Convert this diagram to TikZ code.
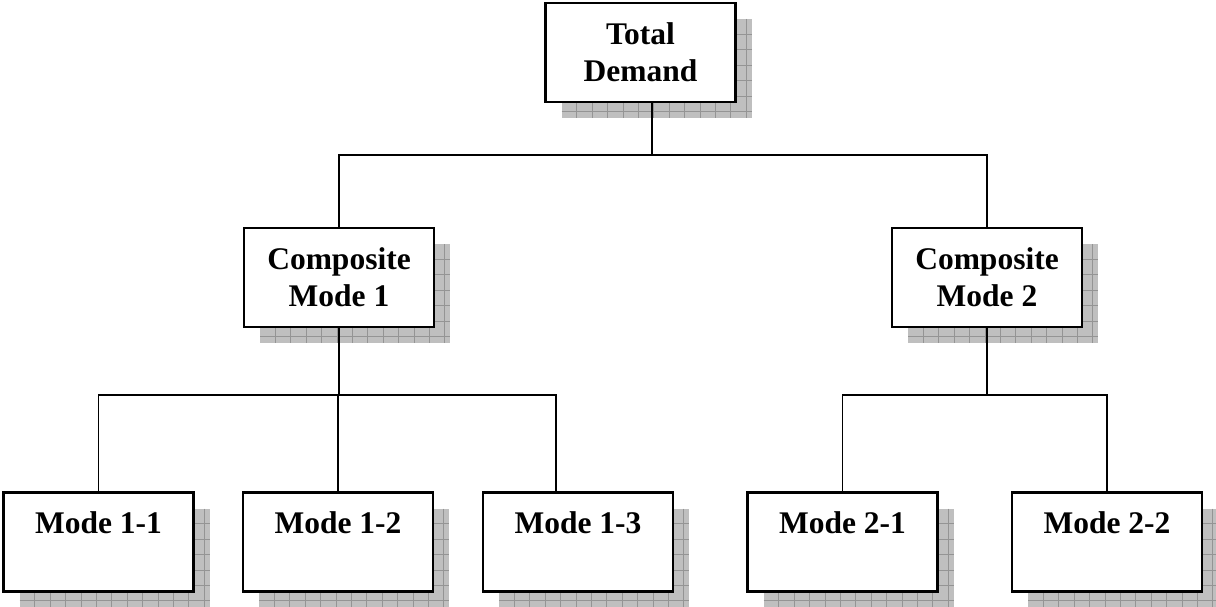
\documentclass[tikz,border=0pt]{standalone}
\usepackage{fontspec}
\setmainfont{Liberation Serif}
\pgfdeclarelayer{background}
\pgfsetlayers{background,main}

\tikzset{
  unitbox/.style={draw=black, fill=white, line width=2.4pt, rectangle,
    minimum width=190pt, minimum height=99pt, inner sep=0pt, outer sep=0pt,
    font=\bfseries\fontsize{31.5}{37}\selectfont, align=center},
  modetext/.style={inner sep=0pt, anchor=north,
    font=\bfseries\fontsize{31.5}{37}\selectfont},
  conn/.style={draw=black, line width=1.8pt},
  shadowfill/.style={fill=black!25},
  shadowgrid/.style={draw=black!42, line width=0.9pt}
}

% hatched drop shadow behind a box: grey field ruled with a fine grid
\newcommand\gridshadow[1]{%
  \begin{pgfonlayer}{background}
    \begin{scope}[shift={([shift={(16,16)}]#1.north west)}]
      \fill[shadowfill] (0,0) rectangle (190,99);
      \foreach \k in {1,...,12} \draw[shadowgrid] (\k*15.4,0) -- (\k*15.4,99);
      \foreach \k in {1,...,6} \draw[shadowgrid] (0,\k*15.4) -- (190,\k*15.4);
    \end{scope}
  \end{pgfonlayer}}

\begin{document}
\begin{tikzpicture}[x=1pt, y=-1pt]
  \useasboundingbox (0,0) rectangle (1216,607);

  % top level
  \node[unitbox] (td) at (640.5,52.5) {Total\\Demand};
  \gridshadow{td}

  % composite modes
  \node[unitbox] (cm1) at (339,277.5) {Composite\\Mode 1};
  \gridshadow{cm1}
  \node[unitbox] (cm2) at (987,277.5) {Composite\\Mode 2};
  \gridshadow{cm2}

  % individual modes
  \node[unitbox] (m11) at (98.5,542) {};
  \gridshadow{m11}
  \node[unitbox] (m12) at (338,542) {};
  \gridshadow{m12}
  \node[unitbox] (m13) at (578,542) {};
  \gridshadow{m13}
  \node[unitbox] (m21) at (842.5,542) {};
  \gridshadow{m21}
  \node[unitbox] (m22) at (1107,542) {};
  \gridshadow{m22}

  \node[modetext] (m11t) at ([yshift=-19pt]m11.north) {Mode 1-1};
  \node[modetext] (m12t) at ([yshift=-19pt]m12.north) {Mode 1-2};
  \node[modetext] (m13t) at ([yshift=-19pt]m13.north) {Mode 1-3};
  \node[modetext] (m21t) at ([yshift=-19pt]m21.north) {Mode 2-1};
  \node[modetext] (m22t) at ([yshift=-19pt]m22.north) {Mode 2-2};

  % junctions of the tree
  \coordinate (j0) at (652,155);
  \coordinate (j1) at (340,395);
  \coordinate (j2) at (988,395);

  % connectors
  \draw[conn] (j0) -- (j0 |- td.south);
  \draw[conn] (cm1.north) |- (j0) -| (cm2.north);

  \draw[conn] (cm1.south) -- (cm1.south |- j1);
  \draw[conn] (m11.north) |- (j1) -| (m12.north);
  \draw[conn] (j1) -| ([xshift=-22pt]m13.north);

  \draw[conn] (cm2.south) -- (cm2.south |- j2);
  \draw[conn] (m21.north) |- (j2) -| (m22.north);
\end{tikzpicture}
\end{document}
